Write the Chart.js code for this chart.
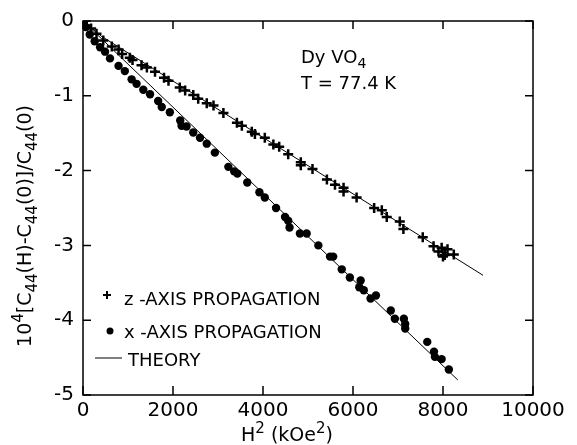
<!DOCTYPE html>
<html>
<head>
<meta charset="utf-8">
<script src="https://cdn.jsdelivr.net/npm/chart.js@4"></script>
<style>
  body { margin: 0; background: #fff; }
</style>
</head>
<body>
<canvas id="chart" width="577" height="445"></canvas>
<script>
// z-axis propagation (crosses)
const zH2 = [0, 80, 180, 300, 450, 640, 790, 870, 1040, 1100, 1300, 1420, 1600, 1800, 1900, 2150, 2270, 2450, 2560, 2750, 2900, 3120, 3420, 3530, 3750, 3820, 4040, 4230, 4360, 4560, 4840, 4840, 5100, 5420, 5600, 5790, 5790, 6080, 6470, 6640, 6750, 7040, 7120, 7550, 7790, 7900, 7970, 8000, 8040, 8100, 8240];
const zVal = [-0.02, -0.06, -0.1, -0.17, -0.26, -0.34, -0.38, -0.44, -0.49, -0.52, -0.59, -0.62, -0.68, -0.76, -0.8, -0.89, -0.93, -0.99, -1.04, -1.1, -1.13, -1.23, -1.36, -1.4, -1.48, -1.51, -1.56, -1.65, -1.68, -1.78, -1.89, -1.93, -1.98, -2.12, -2.19, -2.23, -2.28, -2.36, -2.5, -2.53, -2.62, -2.68, -2.78, -2.89, -3.01, -3.08, -3.03, -3.15, -3.13, -3.05, -3.12];

// x-axis propagation (dots)
const xH2 = [0, 60, 150, 260, 380, 490, 600, 790, 930, 1080, 1190, 1340, 1490, 1670, 1750, 1930, 2160, 2190, 2300, 2450, 2600, 2750, 2930, 3230, 3360, 3430, 3650, 3920, 4040, 4290, 4490, 4560, 4590, 4820, 4970, 5230, 5490, 5560, 5750, 5930, 6140, 6170, 6240, 6390, 6510, 6840, 6930, 7130, 7160, 7160, 7650, 7800, 7820, 7970, 8130];
const xVal = [-0.02, -0.08, -0.18, -0.27, -0.35, -0.41, -0.5, -0.6, -0.67, -0.78, -0.84, -0.92, -0.98, -1.07, -1.15, -1.22, -1.33, -1.4, -1.41, -1.49, -1.56, -1.64, -1.76, -1.95, -2.01, -2.04, -2.16, -2.29, -2.36, -2.5, -2.62, -2.67, -2.76, -2.84, -2.84, -3.0, -3.15, -3.15, -3.32, -3.43, -3.56, -3.47, -3.6, -3.71, -3.67, -3.87, -3.98, -3.98, -4.05, -4.11, -4.29, -4.42, -4.49, -4.52, -4.66];

// theory lines
const theoryZH2 = [0, 400, 8890];
const theoryZVal = [0, -0.2, -3.4];
const theoryXH2 = [0, 8330];
const theoryXVal = [0, -4.8];

const xTickValues = [0, 2000, 4000, 6000, 8000, 10000];
const yTickValues = [-5, -4, -3, -2, -1, 0];

function pts(xs, ys) {
    return xs.map((v, i) => ({ x: v, y: ys[i] }));
}

const FONT = "'DejaVu Sans', sans-serif";

// draws text pieces: [text, 'n'|'sub'|'sup'] starting at x (baseline y)
function richText(ctx, parts, x, y, size, align) {
    const small = Math.round(size * 0.78);
    let total = 0;
    parts.forEach(p => {
        ctx.font = (p[1] == 'n' ? size : small) + 'px ' + FONT;
        total += ctx.measureText(p[0]).width;
    });
    let cx = align == 'center' ? x - total / 2 : x;
    ctx.textAlign = 'left';
    parts.forEach(p => {
        ctx.font = (p[1] == 'n' ? size : small) + 'px ' + FONT;
        let dy = 0;
        if (p[1] == 'sub') dy = size * 0.3;
        if (p[1] == 'sup') dy = -size * 0.42;
        ctx.fillText(p[0], cx, y + dy);
        cx += ctx.measureText(p[0]).width;
    });
}

// frame, inward ticks, titles, notes and legend
const decor = {
    id: 'decor',
    afterDraw(chart) {
        const ctx = chart.ctx;
        const a = chart.chartArea;
        const sx = chart.scales.x, sy = chart.scales.y;
        ctx.save();
        ctx.strokeStyle = '#000';
        ctx.lineWidth = 1.5;
        ctx.strokeRect(a.left, a.top, a.right - a.left, a.bottom - a.top);

        ctx.beginPath();
        xTickValues.forEach(v => {
            const px = sx.getPixelForValue(v);
            ctx.moveTo(px, a.bottom); ctx.lineTo(px, a.bottom - 9);
            ctx.moveTo(px, a.top); ctx.lineTo(px, a.top + 8);
        });
        yTickValues.forEach(v => {
            const py = sy.getPixelForValue(v);
            ctx.moveTo(a.left, py); ctx.lineTo(a.left + 8, py);
            ctx.moveTo(a.right, py); ctx.lineTo(a.right - 8, py);
        });
        ctx.stroke();

        ctx.fillStyle = '#000';
        ctx.textBaseline = 'alphabetic';

        // x title
        richText(ctx, [['H', 'n'], ['2', 'sup'], [' (kOe', 'n'], ['2', 'sup'], [')', 'n']], 287, 441, 19, 'center');

        // y title
        ctx.save();
        ctx.translate(31, 226);
        ctx.rotate(-Math.PI / 2);
        richText(ctx, [['10', 'n'], ['4', 'sup'], ['[C', 'n'], ['44', 'sub'], ['(H)-C', 'n'], ['44', 'sub'],
            ['(0)]/C', 'n'], ['44', 'sub'], ['(0)', 'n']], 0, 0, 19, 'center');
        ctx.restore();

        // notes
        richText(ctx, [['Dy VO', 'n'], ['4', 'sub']], 301, 63, 18, 'left');
        richText(ctx, [['T = 77.4 K', 'n']], 301, 89, 18, 'left');

        // legend
        ctx.font = '18px ' + FONT;
        ctx.textAlign = 'left';
        ctx.fillText('z -AXIS PROPAGATION', 124, 305);
        ctx.fillText('x -AXIS PROPAGATION', 124, 338);
        ctx.fillText('THEORY', 128, 366);
        ctx.lineWidth = 2;
        ctx.beginPath();
        ctx.moveTo(103, 295); ctx.lineTo(111, 295);
        ctx.moveTo(107, 291); ctx.lineTo(107, 299);
        ctx.stroke();
        ctx.beginPath();
        ctx.arc(110, 331, 3.5, 0, Math.PI * 2);
        ctx.fill();
        ctx.lineWidth = 1;
        ctx.beginPath();
        ctx.moveTo(95, 358); ctx.lineTo(122, 358);
        ctx.stroke();
        ctx.restore();
    }
};

new Chart(document.getElementById('chart'), {
    type: 'scatter',
    data: {
        datasets: [
            {
                label: 'THEORY z',
                type: 'line',
                data: pts(theoryZH2, theoryZVal),
                borderColor: '#000',
                borderWidth: 1,
                pointRadius: 0,
                fill: false
            },
            {
                label: 'THEORY x',
                type: 'line',
                data: pts(theoryXH2, theoryXVal),
                borderColor: '#000',
                borderWidth: 1,
                pointRadius: 0,
                fill: false
            },
            {
                label: 'z -AXIS PROPAGATION',
                data: pts(zH2, zVal),
                pointStyle: 'cross',
                pointRadius: 5,
                borderColor: '#000',
                borderWidth: 2.5
            },
            {
                label: 'x -AXIS PROPAGATION',
                data: pts(xH2, xVal),
                pointStyle: 'circle',
                pointRadius: 4.2,
                backgroundColor: '#000',
                borderColor: '#000',
                borderWidth: 0
            }
        ]
    },
    options: {
        responsive: false,
        animation: false,
        layout: { padding: { top: 20, right: 44, left: 0, bottom: 0 } },
        plugins: {
            legend: { display: false },
            tooltip: { enabled: false }
        },
        scales: {
            x: {
                type: 'linear',
                min: 0,
                max: 10000,
                afterFit: s => { s.height = 50; },
                afterBuildTicks: s => { s.ticks = xTickValues.map(v => ({ value: v })); },
                ticks: {
                    color: '#000',
                    font: { family: FONT, size: 20 },
                    padding: 4,
                    maxRotation: 0,
                    callback: v => String(v)
                },
                grid: { display: false, drawTicks: false },
                border: { display: false }
            },
            y: {
                type: 'linear',
                min: -5,
                max: 0,
                afterFit: s => { s.width = 83; },
                afterBuildTicks: s => { s.ticks = yTickValues.map(v => ({ value: v })); },
                ticks: {
                    color: '#000',
                    font: { family: FONT, size: 20 },
                    padding: 9,
                    callback: v => String(v)
                },
                grid: { display: false, drawTicks: false },
                border: { display: false }
            }
        }
    },
    plugins: [decor]
});
</script>
</body>
</html>
